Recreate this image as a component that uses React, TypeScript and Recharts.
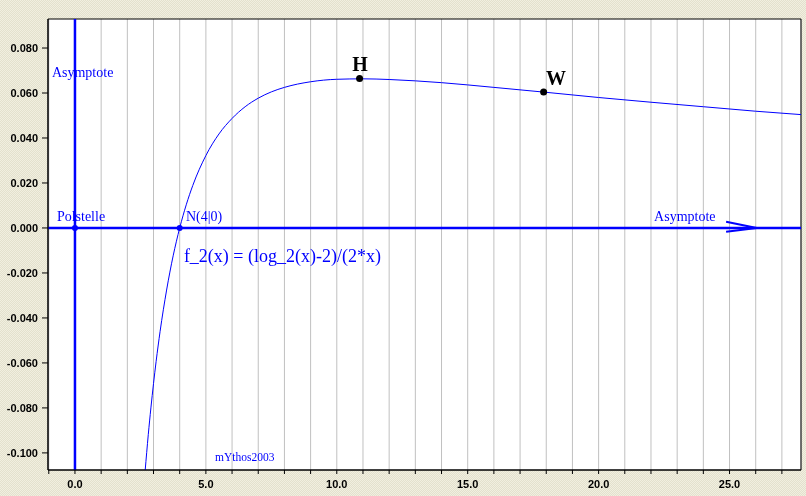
import React from 'react'
import {
  CartesianGrid,
  Line,
  LineChart,
  ReferenceArea,
  ReferenceDot,
  ReferenceLine,
  XAxis,
  YAxis,
} from 'recharts'

const curveX = [2.68, 2.8, 2.9, 3.0, 3.1, 3.25, 3.5, 3.75, 4, 4.25, 4.5, 5, 5.5, 6, 6.5, 7, 7.5, 8, 9, 10, 11, 12, 13, 14, 15, 16, 18, 20, 22, 24, 26, 27.73]
const curveY = [-0.108, -0.0919, -0.08, -0.0692, -0.0593, -0.0461, -0.0276, -0.0124, 0, 0.0103, 0.0189, 0.0322, 0.0418, 0.0487, 0.0539, 0.0577, 0.0605, 0.0625, 0.065, 0.0661, 0.0663, 0.066, 0.0654, 0.0646, 0.0636, 0.0625, 0.0603, 0.058, 0.0559, 0.0539, 0.0519, 0.0504]

const xTicks = [-1, 0, 1, 2, 3, 4, 5, 6, 7, 8, 9, 10, 11, 12, 13, 14, 15, 16, 17, 18, 19, 20, 21, 22, 23, 24, 25, 26, 27]
const yTicks = [-0.1, -0.08, -0.06, -0.04, -0.02, 0, 0.02, 0.04, 0.06, 0.08]

const X_MIN = -1.03
const X_MAX = 27.73
const Y_MIN = -0.1076
const Y_MAX = 0.0929

// special points
const blackPoints = [
  { x: 10.87, y: 0.0664 },
  { x: 17.9, y: 0.0604 },
]
const bluePoints = [
  { x: 0, y: 0 },
  { x: 4, y: 0 },
]

// annotation texts (left anchored)
const smallLabels = [
  { text: 'Asymptote', x: -0.88, y: 0.0693 },
  { text: 'Polstelle', x: -0.69, y: 0.0053 },
  { text: 'N(4|0)', x: 4.24, y: 0.0053 },
  { text: 'Asymptote', x: 22.12, y: 0.0053 },
]
const pointNames = [
  { text: 'H', x: 10.89, y: 0.0729 },
  { text: 'W', x: 18.37, y: 0.0667 },
]
const formula = { text: 'f_2(x) = (log_2(x)-2)/(2*x)', x: 4.16, y: -0.0124 }
const signature = { text: 'mYthos2003', x: 5.35, y: -0.102 }

const arrowTip = { x: 26.04, y: 0 }
const arrowTails = [
  { x: 24.87, y: 0.0028 },
  { x: 24.87, y: -0.0017 },
]

const data = curveX.map((x, i) => ({ x, y: curveY[i] }))

const BLUE = '#0000ff'
const SERIF = '"Liberation Serif", "Times New Roman", serif'
const tickStyle = { fill: '#000', fontSize: 11, fontWeight: 'bold', fontFamily: '"Liberation Sans", Arial, sans-serif' }

export default function App() {
  return (
    <div
      style={{
        position: 'fixed',
        left: 0,
        top: 0,
        width: 806,
        height: 496,
        background: 'repeating-conic-gradient(#e3e1cd 0 25%, #f1efe0 0 50%) 0 0 / 2px 2px',
      }}
    >
      <LineChart width={806} height={496} data={data} margin={{ top: 19, right: 5, bottom: 0, left: 0 }}>
        <CartesianGrid horizontal={false} stroke="#c0c0c0" fill="#fff" fillOpacity={1} />
        <XAxis
          dataKey="x"
          type="number"
          domain={[X_MIN, X_MAX]}
          allowDataOverflow
          ticks={xTicks}
          interval={0}
          height={26}
          tickSize={4}
          tickMargin={6}
          stroke="#000"
          tick={tickStyle}
          tickFormatter={(v: number) => (v % 5 === 0 ? v.toFixed(1) : '')}
        />
        <YAxis
          type="number"
          domain={[Y_MIN, Y_MAX]}
          allowDataOverflow
          ticks={yTicks}
          interval={0}
          width={48}
          tickSize={6}
          tickMargin={4}
          stroke="#000"
          tick={tickStyle}
          tickFormatter={(v: number) => v.toFixed(3)}
        />
        <ReferenceArea x1={X_MIN} x2={X_MAX} y1={Y_MIN} y2={Y_MAX} fill="none" stroke="#000" strokeWidth={1} ifOverflow="visible" />
        <ReferenceLine x={0} stroke={BLUE} strokeWidth={2.5} />
        <ReferenceLine y={0} stroke={BLUE} strokeWidth={2.5} />
        {arrowTails.map((t, i) => (
          <ReferenceLine key={'arrow' + i} segment={[t, arrowTip]} stroke={BLUE} strokeWidth={2} />
        ))}
        <Line dataKey="y" type="monotone" stroke={BLUE} strokeWidth={1} dot={false} isAnimationActive={false} />
        {bluePoints.map((p, i) => (
          <ReferenceDot key={'bp' + i} x={p.x} y={p.y} r={3} fill={BLUE} stroke="none" />
        ))}
        {blackPoints.map((p, i) => (
          <ReferenceDot key={'kp' + i} x={p.x} y={p.y} r={3.5} fill="#000" stroke="none" />
        ))}
        {smallLabels.map((l, i) => (
          <ReferenceDot
            key={'sl' + i}
            x={l.x}
            y={l.y}
            r={0}
            fill="none"
            stroke="none"
            label={{ value: l.text, position: 'right', offset: 0, fill: BLUE, fontSize: 14, fontFamily: SERIF }}
          />
        ))}
        {pointNames.map((l, i) => (
          <ReferenceDot
            key={'pn' + i}
            x={l.x}
            y={l.y}
            r={0}
            fill="none"
            stroke="none"
            label={{ value: l.text, position: 'center', offset: 0, fill: '#000', fontSize: 20, fontWeight: 'bold', fontFamily: SERIF }}
          />
        ))}
        <ReferenceDot
          x={formula.x}
          y={formula.y}
          r={0}
          fill="none"
          stroke="none"
          label={{ value: formula.text, position: 'right', offset: 0, fill: BLUE, fontSize: 18, fontFamily: SERIF }}
        />
        <ReferenceDot
          x={signature.x}
          y={signature.y}
          r={0}
          fill="none"
          stroke="none"
          label={{ value: signature.text, position: 'right', offset: 0, fill: BLUE, fontSize: 11.5, fontFamily: SERIF }}
        />
      </LineChart>
    </div>
  )
}
